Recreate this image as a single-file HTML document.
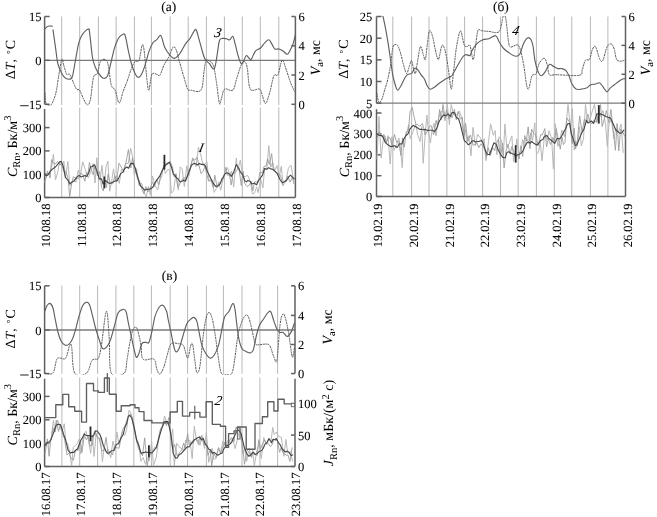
<!DOCTYPE html>
<html><head><meta charset="utf-8"><title>Figure</title>
<style>html,body{margin:0;padding:0;background:#fff;width:657px;height:517px;overflow:hidden;}
svg{display:block;font-family:"Liberation Serif", serif;filter:blur(0.3px);text-rendering:geometricPrecision;} text{stroke:#000;stroke-width:0.06px;} text.lab{stroke:none;}</style></head>
<body>
<svg width="657" height="517" viewBox="0 0 657 517" font-family='"Liberation Serif", serif' fill="#000">
<rect width="657" height="517" fill="#fff"/>
<line x1="61.70" y1="16.50" x2="61.70" y2="105.00" stroke="#b8b8b8" stroke-width="1.0"/>
<line x1="61.70" y1="107.40" x2="61.70" y2="197.50" stroke="#b8b8b8" stroke-width="1.0"/>
<line x1="79.70" y1="16.50" x2="79.70" y2="105.00" stroke="#b8b8b8" stroke-width="1.0"/>
<line x1="79.70" y1="107.40" x2="79.70" y2="197.50" stroke="#b8b8b8" stroke-width="1.0"/>
<line x1="98.40" y1="16.50" x2="98.40" y2="105.00" stroke="#b8b8b8" stroke-width="1.0"/>
<line x1="98.40" y1="107.40" x2="98.40" y2="197.50" stroke="#b8b8b8" stroke-width="1.0"/>
<line x1="116.10" y1="16.50" x2="116.10" y2="105.00" stroke="#b8b8b8" stroke-width="1.0"/>
<line x1="116.10" y1="107.40" x2="116.10" y2="197.50" stroke="#b8b8b8" stroke-width="1.0"/>
<line x1="134.40" y1="16.50" x2="134.40" y2="105.00" stroke="#b8b8b8" stroke-width="1.0"/>
<line x1="134.40" y1="107.40" x2="134.40" y2="197.50" stroke="#b8b8b8" stroke-width="1.0"/>
<line x1="151.40" y1="16.50" x2="151.40" y2="105.00" stroke="#b8b8b8" stroke-width="1.0"/>
<line x1="151.40" y1="107.40" x2="151.40" y2="197.50" stroke="#b8b8b8" stroke-width="1.0"/>
<line x1="170.20" y1="16.50" x2="170.20" y2="105.00" stroke="#b8b8b8" stroke-width="1.0"/>
<line x1="170.20" y1="107.40" x2="170.20" y2="197.50" stroke="#b8b8b8" stroke-width="1.0"/>
<line x1="188.20" y1="16.50" x2="188.20" y2="105.00" stroke="#b8b8b8" stroke-width="1.0"/>
<line x1="188.20" y1="107.40" x2="188.20" y2="197.50" stroke="#b8b8b8" stroke-width="1.0"/>
<line x1="206.40" y1="16.50" x2="206.40" y2="105.00" stroke="#b8b8b8" stroke-width="1.0"/>
<line x1="206.40" y1="107.40" x2="206.40" y2="197.50" stroke="#b8b8b8" stroke-width="1.0"/>
<line x1="224.40" y1="16.50" x2="224.40" y2="105.00" stroke="#b8b8b8" stroke-width="1.0"/>
<line x1="224.40" y1="107.40" x2="224.40" y2="197.50" stroke="#b8b8b8" stroke-width="1.0"/>
<line x1="242.30" y1="16.50" x2="242.30" y2="105.00" stroke="#b8b8b8" stroke-width="1.0"/>
<line x1="242.30" y1="107.40" x2="242.30" y2="197.50" stroke="#b8b8b8" stroke-width="1.0"/>
<line x1="260.30" y1="16.50" x2="260.30" y2="105.00" stroke="#b8b8b8" stroke-width="1.0"/>
<line x1="260.30" y1="107.40" x2="260.30" y2="197.50" stroke="#b8b8b8" stroke-width="1.0"/>
<line x1="278.80" y1="16.50" x2="278.80" y2="105.00" stroke="#b8b8b8" stroke-width="1.0"/>
<line x1="278.80" y1="107.40" x2="278.80" y2="197.50" stroke="#b8b8b8" stroke-width="1.0"/>
<line x1="44.60" y1="60.30" x2="295.40" y2="60.30" stroke="#7a7a7a" stroke-width="1.3"/>
<line x1="44.60" y1="16.50" x2="44.60" y2="104.30" stroke="#606060" stroke-width="1.5"/>
<line x1="295.40" y1="16.50" x2="295.40" y2="104.30" stroke="#606060" stroke-width="1.5"/>
<line x1="44.60" y1="109.00" x2="44.60" y2="197.50" stroke="#606060" stroke-width="1.5"/>
<line x1="295.40" y1="104.30" x2="295.40" y2="197.50" stroke="#606060" stroke-width="1.5"/>
<line x1="44.60" y1="197.50" x2="295.40" y2="197.50" stroke="#606060" stroke-width="1.5"/>
<line x1="44.60" y1="16.50" x2="49.60" y2="16.50" stroke="#606060" stroke-width="1.5"/>
<text x="41.60" y="21.00" font-size="12.5" text-anchor="end">15</text>
<line x1="44.60" y1="60.30" x2="49.60" y2="60.30" stroke="#606060" stroke-width="1.5"/>
<text x="41.60" y="64.80" font-size="12.5" text-anchor="end">0</text>
<line x1="44.60" y1="104.30" x2="49.60" y2="104.30" stroke="#606060" stroke-width="1.5"/>
<line x1="20.20" y1="105.70" x2="28.60" y2="105.70" stroke="#2a2a2a" stroke-width="1.05"/>
<text x="41.60" y="108.80" font-size="12.5" text-anchor="end">15</text>
<line x1="291.40" y1="16.50" x2="295.40" y2="16.50" stroke="#606060" stroke-width="1.5"/>
<text x="298.40" y="21.00" font-size="12.5" text-anchor="start">6</text>
<line x1="291.40" y1="45.80" x2="295.40" y2="45.80" stroke="#606060" stroke-width="1.5"/>
<text x="298.40" y="50.30" font-size="12.5" text-anchor="start">4</text>
<line x1="291.40" y1="75.00" x2="295.40" y2="75.00" stroke="#606060" stroke-width="1.5"/>
<text x="298.40" y="79.50" font-size="12.5" text-anchor="start">2</text>
<line x1="291.40" y1="104.30" x2="295.40" y2="104.30" stroke="#606060" stroke-width="1.5"/>
<text x="298.40" y="108.80" font-size="12.5" text-anchor="start">0</text>
<line x1="44.60" y1="127.60" x2="49.60" y2="127.60" stroke="#606060" stroke-width="1.5"/>
<text x="41.60" y="132.10" font-size="12.5" text-anchor="end">300</text>
<line x1="44.60" y1="150.90" x2="49.60" y2="150.90" stroke="#606060" stroke-width="1.5"/>
<text x="41.60" y="155.40" font-size="12.5" text-anchor="end">200</text>
<line x1="44.60" y1="174.20" x2="49.60" y2="174.20" stroke="#606060" stroke-width="1.5"/>
<text x="41.60" y="178.70" font-size="12.5" text-anchor="end">100</text>
<line x1="44.60" y1="197.50" x2="49.60" y2="197.50" stroke="#606060" stroke-width="1.5"/>
<text x="41.60" y="202.00" font-size="12.5" text-anchor="end">0</text>
<text x="49.70" y="203.50" font-size="12.5" text-anchor="end" transform="rotate(-90 49.70 203.50)">10.08.18</text>
<text x="85.53" y="203.50" font-size="12.5" text-anchor="end" transform="rotate(-90 85.53 203.50)">11.08.18</text>
<text x="121.36" y="203.50" font-size="12.5" text-anchor="end" transform="rotate(-90 121.36 203.50)">12.08.18</text>
<text x="157.19" y="203.50" font-size="12.5" text-anchor="end" transform="rotate(-90 157.19 203.50)">13.08.18</text>
<text x="193.01" y="203.50" font-size="12.5" text-anchor="end" transform="rotate(-90 193.01 203.50)">14.08.18</text>
<text x="228.84" y="203.50" font-size="12.5" text-anchor="end" transform="rotate(-90 228.84 203.50)">15.08.18</text>
<text x="264.67" y="203.50" font-size="12.5" text-anchor="end" transform="rotate(-90 264.67 203.50)">16.08.18</text>
<text x="300.50" y="203.50" font-size="12.5" text-anchor="end" transform="rotate(-90 300.50 203.50)">17.08.18</text>
<clipPath id="ca"><rect x="44" y="15.5" width="252" height="90"/></clipPath>
<g clip-path="url(#ca)">
<path d="M45.0 93.2 C45.2 94.8 45.0 101.0 46.0 103.0 C47.0 105.0 49.3 106.6 50.9 105.0 C52.5 103.4 54.5 98.2 55.8 93.2 C57.1 88.2 57.8 80.9 58.8 75.3 C59.8 69.7 61.0 61.1 61.8 59.5 C62.6 57.9 63.0 62.9 63.8 65.4 C64.6 67.9 65.7 72.9 66.7 74.4 C67.7 75.9 68.5 72.9 69.7 74.4 C70.9 75.9 72.6 80.8 73.7 83.3 C74.8 85.8 75.6 88.0 76.6 89.2 C77.6 90.4 78.4 88.6 79.6 90.2 C80.8 91.8 82.3 96.6 83.6 99.1 C84.9 101.6 86.3 105.0 87.5 105.0 C88.7 105.0 89.5 103.7 90.5 99.1 C91.5 94.5 92.3 81.6 93.5 77.3 C94.7 73.0 96.2 76.0 97.4 73.4 C98.6 70.8 99.1 63.8 100.4 61.5 C101.7 59.2 104.0 58.9 105.3 59.5 C106.6 60.1 107.3 61.1 108.3 65.4 C109.3 69.7 110.1 81.1 111.3 85.2 C112.5 89.3 113.9 87.2 115.2 90.2 C116.5 93.2 117.9 102.8 119.2 103.0 C120.5 103.2 121.9 94.8 123.2 91.2 C124.5 87.6 125.8 84.9 127.1 81.3 C128.4 77.7 129.8 72.7 131.1 69.4 C132.4 66.1 133.7 63.0 135.0 61.5 C136.3 60.0 137.8 63.1 139.0 60.5 C140.2 57.9 141.2 47.4 142.0 45.6 C142.8 43.8 143.2 44.0 144.0 49.6 C144.8 55.2 146.1 72.5 146.9 79.3 C147.7 86.1 148.1 91.0 148.9 90.2 C149.7 89.4 150.6 77.0 151.9 74.4 C153.2 71.8 155.5 74.2 156.8 74.4 C158.1 74.6 158.6 76.8 159.8 75.3 C161.0 73.8 162.7 67.9 163.8 65.4 C165.0 62.9 165.8 62.0 166.7 60.5 C167.6 59.0 168.0 58.5 169.1 56.2 C170.2 54.0 172.0 48.0 173.2 47.0 C174.4 46.0 175.3 47.7 176.3 50.1 C177.3 52.5 178.2 57.1 179.4 61.4 C180.6 65.7 182.1 71.1 183.5 75.7 C184.9 80.3 186.4 86.7 187.6 89.1 C188.8 91.5 188.5 89.9 190.7 90.1 C192.9 90.3 198.8 93.2 201.0 90.1 C203.2 87.0 203.2 76.6 204.0 71.6 C204.8 66.6 205.2 62.1 206.1 60.3 C207.0 58.5 208.0 60.1 209.2 61.0 C210.4 61.9 212.1 62.0 213.3 65.5 C214.5 69.0 215.4 75.6 216.4 81.9 C217.4 88.2 218.6 100.8 219.4 103.5 C220.2 106.2 220.6 100.8 221.5 98.4 C222.4 96.0 222.7 90.5 224.6 89.1 C226.5 87.7 230.8 92.0 232.8 90.1 C234.9 88.2 235.5 81.9 236.9 77.8 C238.3 73.7 239.8 68.2 241.0 65.5 C242.2 62.8 243.1 61.1 244.1 61.4 C245.1 61.7 246.2 62.9 247.2 67.5 C248.2 72.1 248.2 85.5 250.3 89.1 C252.4 92.7 257.4 87.9 259.5 89.1 C261.6 90.3 261.6 93.9 262.6 96.3 C263.6 98.7 264.5 104.2 265.7 103.5 C266.9 102.8 268.4 96.8 269.8 92.2 C271.2 87.6 272.5 78.6 273.9 75.7 C275.3 72.8 276.6 77.3 278.0 74.7 C279.4 72.1 280.7 61.1 282.1 60.3 C283.5 59.4 284.8 66.0 286.2 69.6 C287.6 73.2 288.9 78.3 290.3 81.9 C291.7 85.5 293.7 89.7 294.4 91.2" fill="none" stroke="#555555" stroke-width="1.0" stroke-dasharray="1.2 1.5" stroke-linejoin="round" stroke-linecap="round"/>
<path d="M45.0 28.8 C45.5 28.4 46.7 26.6 47.9 26.2 C49.1 25.8 51.6 26.2 52.3 26.2" fill="none" stroke="#606060" stroke-width="1.15" stroke-linejoin="round" stroke-linecap="round"/>
<path d="M53.0 29.8 C53.5 33.1 55.0 44.0 55.8 49.6 C56.6 55.2 56.8 59.5 57.8 63.5 C58.8 67.5 60.5 70.9 61.8 73.4 C63.1 75.9 64.2 77.4 65.7 78.3 C67.2 79.2 69.5 79.4 70.7 78.9 C71.9 78.4 71.9 78.5 72.7 75.3 C73.5 72.1 74.6 64.8 75.6 59.5 C76.6 54.2 77.6 47.7 78.6 43.7 C79.6 39.7 80.4 37.9 81.6 35.7 C82.8 33.6 84.3 31.9 85.5 30.8 C86.7 29.7 87.8 29.0 88.5 29.2 C89.2 29.4 88.8 27.1 89.5 31.8 C90.2 36.5 91.5 51.6 92.5 57.5 C93.5 63.4 94.2 64.6 95.4 67.4 C96.6 70.2 98.1 72.6 99.4 74.4 C100.7 76.2 102.1 78.0 103.4 78.3 C104.7 78.6 106.2 78.4 107.3 76.3 C108.4 74.2 109.1 70.0 110.3 65.4 C111.5 60.8 113.0 53.1 114.3 48.6 C115.6 44.1 116.9 41.0 118.2 38.7 C119.5 36.4 121.1 35.4 122.2 34.8 C123.3 34.2 124.1 32.8 125.1 35.3 C126.1 37.8 127.1 45.1 128.1 49.6 C129.1 54.1 129.9 58.5 131.1 62.5 C132.2 66.5 133.8 70.9 135.0 73.4 C136.2 75.9 137.0 77.0 138.0 77.3 C139.0 77.6 139.8 77.3 141.0 75.3 C142.2 73.3 143.7 69.4 145.0 65.4 C146.3 61.5 147.6 55.4 148.9 51.6 C150.2 47.8 151.6 44.7 152.9 42.7 C154.2 40.7 155.5 40.9 156.8 39.7 C158.1 38.5 159.5 34.4 160.8 35.7 C162.1 37.0 163.4 44.5 164.8 47.6 C166.2 50.7 167.5 52.4 169.1 54.2 C170.7 56.0 172.5 58.3 174.2 58.3 C175.9 58.3 177.5 56.6 179.4 54.2 C181.3 51.8 183.8 46.5 185.5 43.9 C187.2 41.3 188.3 40.8 189.7 38.8 C191.1 36.8 192.7 33.1 193.8 31.6 C194.9 30.1 195.3 28.7 196.2 29.9 C197.0 31.1 197.9 35.4 198.9 38.8 C199.9 42.2 201.0 46.7 202.0 50.1 C203.0 53.5 203.9 57.1 205.1 59.3 C206.3 61.5 207.7 61.9 209.2 63.4 C210.7 65.0 212.9 70.3 214.3 68.6 C215.7 66.9 216.6 57.7 217.4 53.1 C218.2 48.5 218.6 43.2 219.4 40.8 C220.2 38.3 221.3 38.7 222.5 38.4 C223.7 38.1 225.4 38.6 226.6 38.8 C227.8 39.0 228.7 40.2 229.7 39.8 C230.7 39.4 231.9 35.8 232.8 36.3 C233.7 36.8 234.1 39.8 234.9 42.9 C235.8 46.0 236.9 51.8 237.9 55.2 C238.9 58.6 240.1 62.2 241.0 63.4 C241.9 64.6 242.2 63.7 243.1 62.4 C244.0 61.1 245.2 56.3 246.2 55.6 C247.2 54.9 248.3 57.7 249.2 58.3 C250.0 58.9 250.3 60.5 251.3 59.3 C252.3 58.1 253.9 53.0 255.4 51.1 C256.9 49.2 258.9 49.4 260.5 48.0 C262.1 46.6 263.3 44.3 264.7 42.9 C266.1 41.5 267.6 39.6 268.8 39.8 C270.0 40.0 270.8 42.4 271.8 43.9 C272.8 45.4 273.7 48.1 274.9 49.0 C276.1 49.9 277.6 48.6 279.0 49.0 C280.4 49.4 281.7 50.2 283.1 51.1 C284.5 52.0 286.1 54.4 287.3 54.2 C288.5 54.0 289.3 52.0 290.3 50.1 C291.3 48.2 292.5 45.5 293.4 42.9 C294.2 40.3 295.1 36.1 295.4 34.7" fill="none" stroke="#606060" stroke-width="1.15" stroke-linejoin="round" stroke-linecap="round"/>
</g>
<path d="M45.0 182.3 L46.6 175.4 L49.2 173.2 L51.6 167.5 L53.4 154.1 L55.5 179.8 L57.5 173.2 L59.8 161.1 L62.3 166.7 L63.9 161.1 L65.4 177.8 L67.9 161.5 L69.9 185.7 L72.3 181.2 L73.8 179.3 L75.9 182.3 L78.2 170.2 L80.0 177.2 L82.7 161.8 L85.3 169.5 L86.8 174.6 L88.3 177.7 L90.4 173.2 L93.1 163.6 L95.0 183.0 L96.8 157.7 L98.8 179.7 L100.3 179.0 L102.0 165.2 L104.0 186.3 L106.1 166.4 L107.9 161.1 L109.7 191.2 L111.4 182.9 L113.5 168.8 L115.3 181.0 L116.8 175.9 L119.3 183.4 L121.5 169.5 L123.8 172.4 L125.5 163.4 L128.2 163.5 L130.7 148.4 L132.4 155.9 L134.3 175.1 L136.6 168.7 L139.0 185.7 L141.7 183.4 L143.7 191.3 L146.2 197.0 L148.5 186.4 L150.3 195.1 L152.5 176.1 L155.1 185.4 L157.7 190.0 L159.8 180.8 L162.0 175.5 L163.5 165.1 L165.3 173.7 L167.7 169.6 L169.7 169.9 L171.4 193.1 L173.6 191.0 L175.9 173.9 L178.3 190.1 L180.2 166.8 L182.2 168.9 L184.3 186.6 L186.8 165.8 L188.9 176.2 L190.9 165.5 L193.0 158.7 L194.5 162.5 L196.0 167.0 L198.4 147.3 L201.1 156.1 L203.3 165.9 L205.3 164.2 L206.9 161.6 L209.0 180.9 L211.7 179.0 L214.2 192.4 L216.3 188.4 L218.9 181.8 L220.7 190.3 L222.8 179.5 L225.4 171.4 L227.6 167.7 L229.7 175.0 L231.5 171.3 L233.7 187.1 L236.3 158.0 L237.8 170.0 L240.3 160.2 L242.8 176.9 L245.4 176.3 L247.8 175.5 L250.3 181.5 L252.4 194.0 L254.6 192.8 L256.6 186.8 L258.1 192.6 L260.7 179.0 L262.9 187.9 L264.6 168.8 L266.7 169.5 L268.8 145.5 L270.7 167.2 L272.6 162.2 L274.7 170.6 L277.0 165.5 L279.2 176.6 L281.3 166.3 L282.8 181.7 L284.5 182.1 L286.2 179.9 L288.4 168.1 L291.0 165.2 L293.5 179.9" fill="none" stroke="#b8b8b8" stroke-width="1.0" stroke-linejoin="round" stroke-linecap="round"/>
<path d="M45.0 181.0 L47.5 171.0 L50.1 178.0 L51.6 159.6 L53.1 162.8 L55.5 164.0 L57.7 161.4 L59.9 165.1 L61.7 163.6 L63.8 171.6 L66.0 171.8 L68.1 178.7 L69.7 196.5 L71.6 183.9 L73.4 176.6 L75.7 178.4 L78.3 178.7 L80.8 173.3 L82.9 174.5 L84.8 181.3 L86.6 172.1 L88.0 174.7 L89.4 162.5 L91.4 169.8 L93.2 174.8 L95.0 166.2 L97.5 176.0 L99.5 171.5 L101.6 187.5 L103.3 191.0 L104.7 180.3 L106.5 187.4 L108.1 174.1 L110.1 183.3 L112.7 183.9 L114.9 175.9 L116.5 181.5 L119.0 163.2 L121.3 167.1 L123.6 171.0 L126.1 162.0 L128.4 149.5 L130.8 168.0 L132.6 157.7 L135.2 169.3 L137.7 179.4 L139.3 180.2 L141.6 188.4 L143.9 193.9 L145.8 186.6 L147.9 191.9 L149.9 189.1 L152.4 182.0 L154.4 186.4 L156.8 179.0 L158.6 184.8 L161.0 174.5 L163.5 167.2 L165.5 163.4 L167.6 164.7 L170.1 161.2 L172.3 166.7 L174.3 177.0 L176.0 173.8 L177.8 187.2 L180.0 183.8 L181.6 180.1 L184.1 177.5 L185.8 180.4 L188.3 171.4 L190.1 168.2 L192.6 158.1 L194.9 160.2 L196.9 157.2 L198.9 165.2 L201.1 173.7 L203.2 171.1 L205.0 166.0 L206.6 173.7 L208.6 181.1 L211.2 180.6 L213.3 187.4 L214.8 175.2 L217.2 187.4 L219.5 183.1 L221.9 181.3 L223.6 177.8 L225.9 167.2 L227.3 175.3 L229.5 174.7 L231.2 185.0 L232.9 174.1 L235.4 172.6 L236.9 170.1 L238.9 167.6 L241.3 185.5 L243.0 171.0 L244.7 183.5 L247.2 186.6 L249.1 185.2 L251.3 181.5 L252.8 190.7 L254.6 181.8 L256.2 181.9 L258.4 182.3 L259.9 172.0 L262.5 173.0 L263.9 166.6 L266.2 165.8 L267.6 158.7 L269.3 164.4 L271.7 153.5 L273.3 170.7 L274.9 171.3 L277.1 173.0 L279.0 174.2 L280.4 175.2 L283.0 185.7 L284.6 181.7 L286.0 182.0 L287.8 176.1 L290.0 182.1 L292.3 177.4 L293.8 183.5" fill="none" stroke="#9c9c9c" stroke-width="0.9" stroke-linejoin="round" stroke-linecap="round"/>
<path d="M45.0 175.1 L46.8 175.8 L49.0 173.5 L50.4 171.0 L52.8 168.9 L55.4 167.0 L57.3 164.8 L59.5 162.0 L61.1 161.3 L63.1 165.9 L65.4 177.3 L67.7 179.8 L69.8 183.8 L72.3 181.9 L74.2 180.9 L76.5 177.4 L79.0 175.4 L80.9 176.9 L83.5 176.0 L85.0 175.6 L86.7 176.5 L88.8 172.8 L90.6 166.7 L92.4 166.5 L94.5 164.8 L96.7 170.1 L99.3 179.0 L101.5 178.8 L103.1 184.0 L105.5 180.4 L107.6 182.5 L110.0 183.4 L112.1 182.6 L114.5 181.2 L117.1 180.6 L119.0 177.5 L120.6 173.6 L123.0 172.1 L124.5 168.8 L126.8 167.0 L128.6 168.2 L130.6 163.6 L133.2 163.4 L135.3 168.1 L136.7 173.6 L138.8 181.0 L140.4 185.8 L142.2 187.6 L144.8 190.2 L146.7 189.4 L148.7 189.2 L150.8 188.9 L153.0 187.0 L154.9 182.9 L157.1 179.7 L159.7 176.2 L161.7 171.6 L163.6 167.9 L165.7 165.2 L167.9 162.9 L169.4 162.3 L171.6 167.5 L173.4 174.3 L174.8 175.3 L176.3 177.7 L178.0 178.7 L179.9 181.7 L181.8 181.5 L183.6 180.1 L185.3 181.3 L187.2 176.8 L189.3 171.0 L191.5 165.3 L193.9 163.4 L195.6 163.8 L197.8 165.0 L199.3 163.4 L201.7 164.4 L203.7 164.2 L205.5 166.2 L207.7 172.3 L209.3 175.3 L210.9 178.8 L213.2 183.2 L215.6 186.4 L218.0 186.0 L220.2 183.9 L221.7 179.4 L223.5 176.6 L225.3 173.4 L227.2 172.8 L229.7 174.2 L231.3 176.4 L233.8 171.7 L236.3 164.6 L238.9 168.8 L240.5 172.2 L242.7 174.9 L244.7 180.6 L246.4 181.9 L247.9 180.4 L250.3 181.4 L251.7 184.0 L254.2 183.3 L256.7 184.8 L258.1 180.9 L260.4 178.3 L262.6 174.9 L264.6 168.5 L266.8 169.3 L268.6 167.7 L270.6 168.9 L272.9 169.3 L274.9 171.1 L277.3 173.7 L279.8 179.3 L282.2 182.8 L284.3 181.8 L286.8 180.0 L288.5 177.2 L290.5 175.2 L292.9 177.6 L294.3 178.7" fill="none" stroke="#444444" stroke-width="1.1" stroke-linejoin="round" stroke-linecap="round"/>
<line x1="104.40" y1="176.50" x2="104.40" y2="188.40" stroke="#2a2a2a" stroke-width="1.8"/>
<line x1="164.40" y1="154.80" x2="164.40" y2="169.60" stroke="#2a2a2a" stroke-width="1.8"/>
<text transform="translate(213.80 36.50) skewX(-12)" x="0" y="0" font-size="13.5" font-style="italic">3</text>
<text transform="translate(198.30 151.80) skewX(-12)" x="0" y="0" font-size="13" font-style="italic">I</text>
<text x="168.80" y="10.50" font-size="13.5" text-anchor="middle">(a)</text>
<line x1="392.80" y1="16.50" x2="392.80" y2="196.50" stroke="#b8b8b8" stroke-width="1.0"/>
<line x1="411.60" y1="16.50" x2="411.60" y2="196.50" stroke="#b8b8b8" stroke-width="1.0"/>
<line x1="429.00" y1="16.50" x2="429.00" y2="196.50" stroke="#b8b8b8" stroke-width="1.0"/>
<line x1="446.90" y1="16.50" x2="446.90" y2="196.50" stroke="#b8b8b8" stroke-width="1.0"/>
<line x1="464.60" y1="16.50" x2="464.60" y2="196.50" stroke="#b8b8b8" stroke-width="1.0"/>
<line x1="482.60" y1="16.50" x2="482.60" y2="196.50" stroke="#b8b8b8" stroke-width="1.0"/>
<line x1="500.50" y1="16.50" x2="500.50" y2="196.50" stroke="#b8b8b8" stroke-width="1.0"/>
<line x1="518.20" y1="16.50" x2="518.20" y2="196.50" stroke="#b8b8b8" stroke-width="1.0"/>
<line x1="536.40" y1="16.50" x2="536.40" y2="196.50" stroke="#b8b8b8" stroke-width="1.0"/>
<line x1="554.30" y1="16.50" x2="554.30" y2="196.50" stroke="#b8b8b8" stroke-width="1.0"/>
<line x1="571.80" y1="16.50" x2="571.80" y2="196.50" stroke="#b8b8b8" stroke-width="1.0"/>
<line x1="590.40" y1="16.50" x2="590.40" y2="196.50" stroke="#b8b8b8" stroke-width="1.0"/>
<line x1="607.90" y1="16.50" x2="607.90" y2="196.50" stroke="#b8b8b8" stroke-width="1.0"/>
<line x1="376.50" y1="103.20" x2="625.50" y2="103.20" stroke="#7a7a7a" stroke-width="1.3"/>
<line x1="376.50" y1="16.50" x2="376.50" y2="103.20" stroke="#606060" stroke-width="1.5"/>
<line x1="625.50" y1="16.50" x2="625.50" y2="103.20" stroke="#606060" stroke-width="1.5"/>
<line x1="376.50" y1="109.20" x2="376.50" y2="196.50" stroke="#606060" stroke-width="1.5"/>
<line x1="625.50" y1="103.20" x2="625.50" y2="196.50" stroke="#606060" stroke-width="1.5"/>
<line x1="376.50" y1="196.50" x2="625.50" y2="196.50" stroke="#606060" stroke-width="1.5"/>
<line x1="376.50" y1="16.50" x2="381.50" y2="16.50" stroke="#606060" stroke-width="1.5"/>
<text x="372.30" y="21.00" font-size="12.5" text-anchor="end">25</text>
<line x1="376.50" y1="38.20" x2="381.50" y2="38.20" stroke="#606060" stroke-width="1.5"/>
<text x="372.30" y="42.70" font-size="12.5" text-anchor="end">20</text>
<line x1="376.50" y1="59.85" x2="381.50" y2="59.85" stroke="#606060" stroke-width="1.5"/>
<text x="372.30" y="64.35" font-size="12.5" text-anchor="end">15</text>
<line x1="376.50" y1="81.50" x2="381.50" y2="81.50" stroke="#606060" stroke-width="1.5"/>
<text x="372.30" y="86.00" font-size="12.5" text-anchor="end">10</text>
<line x1="376.50" y1="103.20" x2="381.50" y2="103.20" stroke="#606060" stroke-width="1.5"/>
<text x="372.30" y="107.70" font-size="12.5" text-anchor="end">5</text>
<line x1="621.50" y1="16.50" x2="625.50" y2="16.50" stroke="#606060" stroke-width="1.5"/>
<text x="628.50" y="21.00" font-size="12.5" text-anchor="start">6</text>
<line x1="621.50" y1="45.40" x2="625.50" y2="45.40" stroke="#606060" stroke-width="1.5"/>
<text x="628.50" y="49.90" font-size="12.5" text-anchor="start">4</text>
<line x1="621.50" y1="74.30" x2="625.50" y2="74.30" stroke="#606060" stroke-width="1.5"/>
<text x="628.50" y="78.80" font-size="12.5" text-anchor="start">2</text>
<line x1="621.50" y1="103.20" x2="625.50" y2="103.20" stroke="#606060" stroke-width="1.5"/>
<text x="628.50" y="107.70" font-size="12.5" text-anchor="start">0</text>
<line x1="376.50" y1="113.00" x2="381.50" y2="113.00" stroke="#606060" stroke-width="1.5"/>
<text x="372.30" y="117.50" font-size="12.5" text-anchor="end">400</text>
<line x1="376.50" y1="133.90" x2="381.50" y2="133.90" stroke="#606060" stroke-width="1.5"/>
<text x="372.30" y="138.40" font-size="12.5" text-anchor="end">300</text>
<line x1="376.50" y1="154.80" x2="381.50" y2="154.80" stroke="#606060" stroke-width="1.5"/>
<text x="372.30" y="159.30" font-size="12.5" text-anchor="end">200</text>
<line x1="376.50" y1="175.70" x2="381.50" y2="175.70" stroke="#606060" stroke-width="1.5"/>
<text x="372.30" y="180.20" font-size="12.5" text-anchor="end">100</text>
<line x1="376.50" y1="196.50" x2="381.50" y2="196.50" stroke="#606060" stroke-width="1.5"/>
<text x="372.30" y="201.00" font-size="12.5" text-anchor="end">0</text>
<text x="382.30" y="203.50" font-size="12.5" text-anchor="end" transform="rotate(-90 382.30 203.50)">19.02.19</text>
<text x="417.99" y="203.50" font-size="12.5" text-anchor="end" transform="rotate(-90 417.99 203.50)">20.02.19</text>
<text x="453.68" y="203.50" font-size="12.5" text-anchor="end" transform="rotate(-90 453.68 203.50)">21.02.19</text>
<text x="489.37" y="203.50" font-size="12.5" text-anchor="end" transform="rotate(-90 489.37 203.50)">22.02.19</text>
<text x="525.06" y="203.50" font-size="12.5" text-anchor="end" transform="rotate(-90 525.06 203.50)">23.02.19</text>
<text x="560.75" y="203.50" font-size="12.5" text-anchor="end" transform="rotate(-90 560.75 203.50)">24.02.19</text>
<text x="596.44" y="203.50" font-size="12.5" text-anchor="end" transform="rotate(-90 596.44 203.50)">25.02.19</text>
<text x="632.13" y="203.50" font-size="12.5" text-anchor="end" transform="rotate(-90 632.13 203.50)">26.02.19</text>
<clipPath id="cb"><rect x="376" y="16" width="250" height="88"/></clipPath>
<g clip-path="url(#cb)">
<path d="M376.9 93.2 C377.2 94.7 378.1 101.1 378.9 102.1 C379.7 103.1 380.9 101.2 381.9 99.1 C382.9 96.9 383.9 92.5 384.9 89.2 C385.9 85.9 386.8 83.6 387.8 79.3 C388.8 75.0 390.0 68.8 390.8 63.5 C391.6 58.2 392.1 50.7 392.8 47.6 C393.5 44.5 394.0 45.0 394.8 44.7 C395.6 44.4 396.7 44.1 397.7 45.6 C398.7 47.1 399.7 50.3 400.7 53.6 C401.7 56.9 402.7 62.1 403.7 65.4 C404.7 68.7 405.6 73.4 406.6 73.4 C407.6 73.4 408.8 67.6 409.6 65.4 C410.4 63.3 410.9 59.8 411.6 60.5 C412.3 61.2 413.0 67.2 413.6 69.4 C414.2 71.6 414.9 74.7 415.5 73.4 C416.1 72.1 416.7 66.0 417.5 61.5 C418.3 57.0 419.5 47.6 420.5 46.6 C421.5 45.6 422.7 53.4 423.5 55.5 C424.3 57.6 424.8 61.5 425.4 59.5 C426.0 57.5 426.7 48.5 427.4 43.7 C428.1 38.9 428.6 32.1 429.4 30.8 C430.2 29.5 431.4 32.6 432.4 35.7 C433.4 38.8 434.3 45.6 435.3 49.6 C436.3 53.6 437.3 59.8 438.3 59.5 C439.3 59.2 440.5 49.9 441.3 47.6 C442.1 45.3 442.5 44.3 443.3 45.6 C444.1 46.9 445.2 50.5 446.2 55.5 C447.2 60.5 448.4 69.7 449.2 75.3 C450.0 80.9 450.5 89.2 451.2 89.2 C451.9 89.2 452.4 81.9 453.2 75.3 C454.0 68.7 455.1 56.5 456.1 49.6 C457.1 42.7 458.3 36.8 459.1 33.8 C459.9 30.8 460.3 30.0 461.1 31.8 C461.9 33.6 463.1 42.2 464.1 44.7 C465.1 47.2 466.0 46.5 467.0 46.6 C468.0 46.8 469.0 43.5 470.0 45.6 C471.0 47.8 472.2 58.8 473.0 59.5 C473.8 60.2 474.2 54.4 475.0 49.6 C475.8 44.8 476.8 33.9 477.9 30.8 C479.0 27.7 480.1 30.7 481.9 30.8 C483.7 30.9 485.9 31.3 488.8 31.4 C491.7 31.5 496.7 34.1 499.1 31.6 C501.5 29.1 502.1 18.4 503.2 16.2 C504.3 14.0 504.8 14.1 505.7 18.2 C506.6 22.3 507.6 36.0 508.4 40.8 C509.2 45.6 508.9 46.3 510.4 47.0 C511.9 47.7 515.9 44.2 517.6 44.9 C519.3 45.6 519.7 47.7 520.7 51.1 C521.7 54.5 522.8 59.7 523.8 65.5 C524.8 71.3 525.9 82.2 526.8 86.0 C527.6 89.8 528.0 89.8 528.9 88.1 C529.8 86.4 530.8 78.1 532.0 75.7 C533.2 73.3 534.9 75.8 536.1 73.7 C537.3 71.7 537.8 66.0 539.2 63.4 C540.6 60.8 542.9 57.9 544.3 58.3 C545.7 58.6 546.5 62.8 547.4 65.5 C548.2 68.2 547.9 73.2 549.4 74.7 C550.9 76.2 551.6 74.6 556.6 74.7 C561.6 74.8 574.9 76.2 579.2 75.3 C583.5 74.4 581.3 72.1 582.3 69.6 C583.3 67.1 584.2 62.0 585.4 60.3 C586.6 58.6 588.3 61.2 589.5 59.3 C590.7 57.4 591.6 51.0 592.6 49.0 C593.6 47.0 594.5 45.3 595.7 47.0 C596.9 48.7 598.6 57.1 599.8 59.3 C601.0 61.5 601.7 62.3 602.9 60.3 C604.1 58.2 605.6 49.7 607.0 47.0 C608.4 44.3 609.9 43.6 611.1 43.9 C612.3 44.2 613.2 46.3 614.2 49.0 C615.2 51.7 615.4 58.4 617.3 60.3 C619.2 62.2 624.1 60.3 625.5 60.3" fill="none" stroke="#555555" stroke-width="1.0" stroke-dasharray="1.2 1.5" stroke-linejoin="round" stroke-linecap="round"/>
<path d="M382.9 15.9 C383.4 18.2 384.8 24.5 385.8 29.8 C386.8 35.1 388.0 42.3 388.8 47.6 C389.6 52.9 390.1 56.9 390.8 61.5 C391.5 66.1 392.0 71.2 392.8 75.3 C393.6 79.4 394.9 83.7 395.7 86.2 C396.5 88.7 396.9 90.2 397.7 90.2 C398.5 90.2 399.5 88.2 400.7 86.2 C401.9 84.2 403.5 80.3 404.7 78.3 C405.9 76.3 406.5 75.2 407.6 74.4 C408.8 73.6 410.4 74.4 411.6 73.4 C412.8 72.4 413.6 69.1 414.6 68.4 C415.6 67.7 416.4 68.2 417.5 69.4 C418.6 70.6 420.3 73.7 421.5 75.3 C422.7 76.9 423.5 77.5 424.5 79.3 C425.5 81.1 426.4 84.5 427.4 86.2 C428.4 87.9 429.2 89.0 430.4 89.2 C431.6 89.4 432.9 88.2 434.4 87.2 C435.9 86.2 437.5 84.6 439.3 83.3 C441.1 82.0 443.2 80.5 445.2 79.3 C447.2 78.1 449.9 77.3 451.2 76.3 C452.5 75.3 452.0 75.4 453.2 73.4 C454.4 71.4 456.5 67.3 458.1 64.5 C459.8 61.7 461.8 58.1 463.1 56.5 C464.4 54.9 464.9 54.8 466.0 54.6 C467.1 54.4 469.0 56.2 470.0 55.5 C471.0 54.8 470.9 52.6 472.0 50.6 C473.1 48.6 475.1 45.5 476.9 43.7 C478.7 41.9 480.9 40.5 482.9 39.7 C484.9 38.9 486.7 39.4 488.8 38.7 C490.9 38.0 494.0 35.2 495.7 35.7 C497.4 36.2 497.9 39.8 499.1 41.8 C500.4 43.8 501.5 46.1 503.2 48.0 C504.9 49.9 507.3 51.7 509.4 53.1 C511.4 54.5 513.8 56.0 515.5 56.2 C517.2 56.4 518.3 56.4 519.7 54.2 C521.1 52.0 522.4 45.6 523.8 42.9 C525.2 40.1 526.7 38.2 527.9 37.7 C529.1 37.2 530.1 38.4 531.0 39.8 C531.9 41.2 532.3 42.4 533.0 46.0 C533.7 49.6 534.2 57.1 535.1 61.4 C536.0 65.7 537.1 69.2 538.1 71.6 C539.1 74.0 540.0 75.7 541.2 75.7 C542.4 75.7 543.9 73.5 545.3 71.6 C546.7 69.7 548.0 65.2 549.4 64.4 C550.8 63.6 552.2 65.8 553.6 66.5 C555.0 67.2 556.3 68.2 557.7 68.6 C559.1 68.9 560.4 68.3 561.8 68.6 C563.2 68.9 564.7 69.4 565.9 70.6 C567.1 71.8 568.0 73.5 569.0 75.7 C570.0 77.9 570.8 81.8 572.0 84.0 C573.2 86.2 574.7 88.2 576.2 89.1 C577.8 89.9 579.6 89.3 581.3 89.1 C583.0 88.9 584.9 88.8 586.4 88.1 C587.9 87.4 589.0 85.7 590.5 85.0 C592.0 84.3 594.2 84.3 595.7 84.0 C597.2 83.7 598.4 82.2 599.8 82.9 C601.2 83.6 602.7 86.6 603.9 88.1 C605.1 89.6 606.0 91.8 607.0 91.8 C608.0 91.8 608.9 89.2 610.1 88.1 C611.3 87.0 612.7 86.2 614.2 85.0 C615.7 83.8 617.8 81.9 619.3 80.9 C620.8 79.9 622.4 79.2 623.4 78.8 C624.4 78.4 625.1 78.8 625.5 78.8" fill="none" stroke="#606060" stroke-width="1.15" stroke-linejoin="round" stroke-linecap="round"/>
</g>
<path d="M377.0 159.0 L379.0 116.5 L381.2 158.0 L383.8 134.1 L385.9 143.4 L388.0 135.6 L390.2 164.1 L391.9 136.7 L394.0 150.3 L396.3 145.7 L398.8 137.9 L400.4 146.5 L402.2 167.7 L403.8 138.8 L406.3 135.6 L408.6 124.7 L410.2 138.6 L412.9 131.8 L415.6 124.4 L417.8 135.3 L420.1 141.5 L421.8 126.7 L423.2 163.3 L425.4 131.7 L426.9 115.1 L428.6 133.0 L430.4 142.9 L431.9 131.0 L434.0 123.3 L436.0 136.0 L438.5 118.4 L440.7 111.9 L442.9 110.9 L445.0 120.9 L447.3 104.5 L449.4 124.6 L451.2 104.5 L453.9 115.0 L456.7 114.8 L459.2 111.1 L461.5 116.8 L463.4 135.4 L465.2 129.6 L467.0 140.8 L468.6 135.8 L471.0 155.8 L473.0 127.4 L475.5 145.9 L477.5 134.3 L480.1 137.4 L482.7 142.8 L484.2 138.7 L485.9 160.7 L488.5 141.7 L490.6 123.8 L493.3 135.3 L495.2 130.6 L496.8 154.8 L499.1 136.8 L501.5 140.4 L503.3 155.9 L504.9 124.1 L506.8 147.6 L509.5 142.5 L511.9 135.9 L513.5 161.8 L515.3 151.2 L516.9 138.9 L518.5 153.1 L520.9 151.9 L522.6 139.6 L524.8 146.3 L526.8 138.4 L528.5 143.4 L530.9 132.9 L532.6 140.4 L534.8 122.8 L536.5 154.2 L538.5 152.4 L540.2 141.7 L542.0 160.8 L544.7 133.6 L547.2 139.5 L549.0 130.7 L551.6 138.5 L553.4 169.1 L555.3 123.7 L557.9 146.3 L560.2 139.6 L561.7 130.0 L564.5 136.6 L566.2 123.5 L568.0 104.5 L570.4 126.8 L572.3 108.5 L574.2 150.1 L575.7 140.8 L577.3 145.9 L579.5 126.8 L581.3 145.8 L583.5 139.1 L585.5 104.5 L587.5 121.1 L590.2 118.7 L592.3 111.0 L594.5 104.5 L597.0 122.4 L598.7 111.4 L600.4 116.6 L603.0 110.6 L605.5 123.8 L607.3 146.4 L609.0 124.1 L611.4 119.2 L614.0 139.0 L615.8 128.3 L618.4 132.6 L621.0 124.1 L623.2 152.5" fill="none" stroke="#b8b8b8" stroke-width="1.0" stroke-linejoin="round" stroke-linecap="round"/>
<path d="M377.0 138.3 L379.0 131.5 L381.2 136.3 L383.4 135.8 L384.9 136.0 L386.3 143.4 L388.2 137.7 L389.9 137.7 L392.3 145.8 L394.5 134.4 L396.6 142.4 L398.7 141.4 L400.9 155.5 L402.5 137.9 L404.4 147.1 L406.0 132.2 L408.5 130.2 L410.0 111.8 L412.3 107.5 L413.8 115.8 L416.1 124.8 L417.9 124.5 L419.7 126.3 L422.2 123.6 L423.6 127.6 L425.1 135.0 L427.6 130.9 L429.6 126.5 L431.1 125.5 L433.7 134.6 L436.2 120.3 L437.7 126.9 L439.6 109.5 L441.2 119.8 L443.0 104.5 L445.1 118.3 L446.7 109.6 L449.0 118.9 L450.4 114.3 L452.0 118.0 L454.4 109.4 L456.3 119.8 L458.2 111.5 L460.3 119.0 L462.3 117.3 L464.1 136.5 L465.6 123.4 L467.8 141.5 L470.4 134.9 L473.0 145.1 L475.2 144.5 L477.0 142.8 L478.8 147.7 L481.1 143.8 L483.3 147.1 L484.8 149.6 L486.5 157.2 L488.3 147.7 L490.3 155.5 L492.7 147.8 L494.7 150.6 L496.1 143.7 L498.5 139.2 L500.4 158.5 L502.5 143.1 L504.1 168.1 L506.0 151.0 L507.9 144.4 L510.2 154.2 L511.8 146.5 L513.8 151.2 L515.4 157.7 L517.7 154.5 L519.1 159.0 L520.8 145.7 L522.7 156.5 L524.8 135.6 L526.3 141.1 L528.2 126.8 L529.9 148.7 L531.6 129.2 L533.6 133.3 L536.1 135.6 L538.1 145.9 L540.7 134.6 L542.3 135.0 L544.8 128.6 L546.6 146.7 L548.2 138.8 L550.5 144.5 L553.0 137.4 L554.4 142.5 L556.2 128.6 L558.5 139.9 L560.3 149.2 L562.0 137.2 L563.4 144.6 L564.9 142.5 L567.0 118.0 L569.6 122.2 L572.2 143.8 L574.2 128.2 L575.6 149.0 L577.4 140.7 L579.7 115.9 L582.1 132.5 L584.3 119.0 L586.0 120.6 L588.0 114.2 L590.0 122.6 L592.1 123.7 L593.9 120.3 L596.4 122.4 L598.9 113.4 L600.5 104.6 L602.2 126.6 L604.7 117.7 L606.4 110.5 L608.9 122.8 L610.9 109.4 L613.2 129.6 L615.4 150.3 L617.1 123.5 L618.8 150.8 L620.5 129.0 L622.7 132.0 L625.0 136.8" fill="none" stroke="#9c9c9c" stroke-width="0.9" stroke-linejoin="round" stroke-linecap="round"/>
<path d="M377.0 133.9 L379.2 135.5 L381.6 135.3 L383.2 137.3 L384.9 141.8 L386.9 144.0 L388.6 145.3 L391.0 146.7 L393.1 146.1 L394.7 145.7 L397.1 147.5 L399.5 143.9 L401.8 144.0 L403.5 139.5 L406.0 135.5 L408.0 133.8 L409.9 129.1 L411.7 127.0 L413.3 125.4 L415.8 126.7 L418.1 128.3 L419.6 129.4 L421.8 129.3 L423.5 129.8 L425.5 129.4 L427.6 130.5 L429.5 130.2 L431.2 130.3 L432.9 130.3 L434.4 131.6 L436.6 128.6 L438.8 122.2 L441.3 117.8 L443.7 114.9 L446.1 115.8 L448.0 113.9 L450.4 116.3 L452.1 112.4 L454.5 112.7 L456.1 116.9 L458.6 119.0 L460.3 124.2 L462.4 132.9 L464.3 140.7 L466.5 142.2 L468.1 144.8 L470.4 143.6 L471.8 141.1 L474.0 140.8 L475.5 142.1 L477.4 141.5 L478.8 141.5 L481.4 140.6 L483.1 143.1 L485.2 150.1 L487.1 154.3 L489.5 154.7 L491.5 149.3 L494.0 142.8 L496.2 144.4 L498.0 149.6 L500.5 154.2 L502.8 157.4 L505.2 157.8 L506.9 152.4 L508.6 151.7 L510.3 152.8 L511.8 153.5 L513.7 154.2 L515.8 155.4 L517.2 155.0 L519.2 154.3 L521.2 153.1 L523.2 150.5 L524.7 146.8 L527.1 142.8 L528.8 142.1 L530.2 143.2 L531.8 141.5 L534.2 143.6 L536.8 145.0 L538.4 143.8 L540.7 140.4 L542.8 139.6 L544.3 136.4 L546.8 135.4 L548.3 137.8 L550.2 139.5 L552.5 141.3 L554.7 143.4 L557.2 138.2 L559.2 139.1 L561.3 136.8 L563.7 131.9 L565.3 129.3 L567.7 123.9 L569.7 123.5 L571.4 133.8 L573.0 138.7 L575.2 145.4 L576.8 145.0 L579.4 138.6 L581.7 133.0 L584.1 128.9 L586.4 120.5 L587.9 122.9 L589.7 122.0 L591.4 121.0 L593.7 123.3 L595.2 119.1 L596.9 113.7 L598.6 114.3 L601.0 113.9 L603.6 115.3 L605.9 116.4 L607.9 117.3 L610.4 117.9 L612.2 121.8 L614.2 126.2 L615.6 129.8 L618.0 131.7 L620.1 133.4 L621.9 132.7 L623.9 130.0" fill="none" stroke="#444444" stroke-width="1.1" stroke-linejoin="round" stroke-linecap="round"/>
<line x1="515.70" y1="145.20" x2="515.70" y2="162.60" stroke="#2a2a2a" stroke-width="1.8"/>
<line x1="598.80" y1="105.10" x2="598.80" y2="123.60" stroke="#2a2a2a" stroke-width="1.8"/>
<text transform="translate(511.60 35.00) skewX(-12)" x="0" y="0" font-size="13.5" font-style="italic">4</text>
<text x="500.90" y="11.30" font-size="13.5" text-anchor="middle">(&#1073;)</text>
<line x1="61.90" y1="285.50" x2="61.90" y2="373.80" stroke="#b8b8b8" stroke-width="1.0"/>
<line x1="61.90" y1="377.40" x2="61.90" y2="466.50" stroke="#b8b8b8" stroke-width="1.0"/>
<line x1="79.70" y1="285.50" x2="79.70" y2="373.80" stroke="#b8b8b8" stroke-width="1.0"/>
<line x1="79.70" y1="377.40" x2="79.70" y2="466.50" stroke="#b8b8b8" stroke-width="1.0"/>
<line x1="97.60" y1="285.50" x2="97.60" y2="373.80" stroke="#b8b8b8" stroke-width="1.0"/>
<line x1="97.60" y1="377.40" x2="97.60" y2="466.50" stroke="#b8b8b8" stroke-width="1.0"/>
<line x1="115.90" y1="285.50" x2="115.90" y2="373.80" stroke="#b8b8b8" stroke-width="1.0"/>
<line x1="115.90" y1="377.40" x2="115.90" y2="466.50" stroke="#b8b8b8" stroke-width="1.0"/>
<line x1="133.80" y1="285.50" x2="133.80" y2="373.80" stroke="#b8b8b8" stroke-width="1.0"/>
<line x1="133.80" y1="377.40" x2="133.80" y2="466.50" stroke="#b8b8b8" stroke-width="1.0"/>
<line x1="151.40" y1="285.50" x2="151.40" y2="373.80" stroke="#b8b8b8" stroke-width="1.0"/>
<line x1="151.40" y1="377.40" x2="151.40" y2="466.50" stroke="#b8b8b8" stroke-width="1.0"/>
<line x1="170.20" y1="285.50" x2="170.20" y2="373.80" stroke="#b8b8b8" stroke-width="1.0"/>
<line x1="170.20" y1="377.40" x2="170.20" y2="466.50" stroke="#b8b8b8" stroke-width="1.0"/>
<line x1="187.60" y1="285.50" x2="187.60" y2="373.80" stroke="#b8b8b8" stroke-width="1.0"/>
<line x1="187.60" y1="377.40" x2="187.60" y2="466.50" stroke="#b8b8b8" stroke-width="1.0"/>
<line x1="206.40" y1="285.50" x2="206.40" y2="373.80" stroke="#b8b8b8" stroke-width="1.0"/>
<line x1="206.40" y1="377.40" x2="206.40" y2="466.50" stroke="#b8b8b8" stroke-width="1.0"/>
<line x1="223.40" y1="285.50" x2="223.40" y2="373.80" stroke="#b8b8b8" stroke-width="1.0"/>
<line x1="223.40" y1="377.40" x2="223.40" y2="466.50" stroke="#b8b8b8" stroke-width="1.0"/>
<line x1="242.00" y1="285.50" x2="242.00" y2="373.80" stroke="#b8b8b8" stroke-width="1.0"/>
<line x1="242.00" y1="377.40" x2="242.00" y2="466.50" stroke="#b8b8b8" stroke-width="1.0"/>
<line x1="259.90" y1="285.50" x2="259.90" y2="373.80" stroke="#b8b8b8" stroke-width="1.0"/>
<line x1="259.90" y1="377.40" x2="259.90" y2="466.50" stroke="#b8b8b8" stroke-width="1.0"/>
<line x1="277.60" y1="285.50" x2="277.60" y2="373.80" stroke="#b8b8b8" stroke-width="1.0"/>
<line x1="277.60" y1="377.40" x2="277.60" y2="466.50" stroke="#b8b8b8" stroke-width="1.0"/>
<line x1="44.60" y1="330.00" x2="295.00" y2="330.00" stroke="#7a7a7a" stroke-width="1.3"/>
<line x1="44.60" y1="285.80" x2="44.60" y2="373.60" stroke="#606060" stroke-width="1.5"/>
<line x1="295.00" y1="285.80" x2="295.00" y2="373.60" stroke="#606060" stroke-width="1.5"/>
<line x1="44.60" y1="378.70" x2="44.60" y2="466.50" stroke="#606060" stroke-width="1.5"/>
<line x1="295.00" y1="378.70" x2="295.00" y2="466.50" stroke="#606060" stroke-width="1.5"/>
<line x1="44.60" y1="466.50" x2="295.00" y2="466.50" stroke="#606060" stroke-width="1.5"/>
<line x1="44.60" y1="285.80" x2="49.60" y2="285.80" stroke="#606060" stroke-width="1.5"/>
<text x="41.60" y="290.30" font-size="12.5" text-anchor="end">15</text>
<line x1="44.60" y1="330.00" x2="49.60" y2="330.00" stroke="#606060" stroke-width="1.5"/>
<text x="41.60" y="334.50" font-size="12.5" text-anchor="end">0</text>
<line x1="44.60" y1="373.60" x2="49.60" y2="373.60" stroke="#606060" stroke-width="1.5"/>
<line x1="20.20" y1="375.00" x2="28.60" y2="375.00" stroke="#2a2a2a" stroke-width="1.05"/>
<text x="41.60" y="378.10" font-size="12.5" text-anchor="end">15</text>
<line x1="291.00" y1="285.80" x2="295.00" y2="285.80" stroke="#606060" stroke-width="1.5"/>
<text x="298.00" y="290.30" font-size="12.5" text-anchor="start">6</text>
<line x1="291.00" y1="315.40" x2="295.00" y2="315.40" stroke="#606060" stroke-width="1.5"/>
<text x="298.00" y="319.90" font-size="12.5" text-anchor="start">4</text>
<line x1="291.00" y1="344.50" x2="295.00" y2="344.50" stroke="#606060" stroke-width="1.5"/>
<text x="298.00" y="349.00" font-size="12.5" text-anchor="start">2</text>
<line x1="291.00" y1="373.60" x2="295.00" y2="373.60" stroke="#606060" stroke-width="1.5"/>
<text x="298.00" y="378.10" font-size="12.5" text-anchor="start">0</text>
<line x1="44.60" y1="396.40" x2="49.60" y2="396.40" stroke="#606060" stroke-width="1.5"/>
<text x="41.60" y="400.90" font-size="12.5" text-anchor="end">300</text>
<line x1="44.60" y1="419.80" x2="49.60" y2="419.80" stroke="#606060" stroke-width="1.5"/>
<text x="41.60" y="424.30" font-size="12.5" text-anchor="end">200</text>
<line x1="44.60" y1="443.10" x2="49.60" y2="443.10" stroke="#606060" stroke-width="1.5"/>
<text x="41.60" y="447.60" font-size="12.5" text-anchor="end">100</text>
<line x1="44.60" y1="466.50" x2="49.60" y2="466.50" stroke="#606060" stroke-width="1.5"/>
<text x="41.60" y="471.00" font-size="12.5" text-anchor="end">0</text>
<line x1="291.00" y1="403.60" x2="295.00" y2="403.60" stroke="#606060" stroke-width="1.5"/>
<text x="298.00" y="408.10" font-size="12.5" text-anchor="start">100</text>
<line x1="291.00" y1="435.10" x2="295.00" y2="435.10" stroke="#606060" stroke-width="1.5"/>
<text x="298.00" y="439.60" font-size="12.5" text-anchor="start">50</text>
<line x1="291.00" y1="466.50" x2="295.00" y2="466.50" stroke="#606060" stroke-width="1.5"/>
<text x="298.00" y="471.00" font-size="12.5" text-anchor="start">0</text>
<text x="49.70" y="472.50" font-size="12.5" text-anchor="end" transform="rotate(-90 49.70 472.50)">16.08.17</text>
<text x="85.47" y="472.50" font-size="12.5" text-anchor="end" transform="rotate(-90 85.47 472.50)">17.08.17</text>
<text x="121.24" y="472.50" font-size="12.5" text-anchor="end" transform="rotate(-90 121.24 472.50)">18.08.17</text>
<text x="157.01" y="472.50" font-size="12.5" text-anchor="end" transform="rotate(-90 157.01 472.50)">19.08.17</text>
<text x="192.79" y="472.50" font-size="12.5" text-anchor="end" transform="rotate(-90 192.79 472.50)">20.08.17</text>
<text x="228.56" y="472.50" font-size="12.5" text-anchor="end" transform="rotate(-90 228.56 472.50)">21.08.17</text>
<text x="264.33" y="472.50" font-size="12.5" text-anchor="end" transform="rotate(-90 264.33 472.50)">22.08.17</text>
<text x="300.10" y="472.50" font-size="12.5" text-anchor="end" transform="rotate(-90 300.10 472.50)">23.08.17</text>
<clipPath id="cv"><rect x="44" y="284.5" width="252" height="90.3"/></clipPath>
<g clip-path="url(#cv)">
<path d="M45.0 373.1 C46.3 373.1 50.9 375.4 52.9 373.1 C54.9 370.8 55.5 361.7 56.8 359.2 C58.1 356.7 59.3 358.4 60.8 358.2 C62.3 358.0 64.2 360.3 65.7 358.2 C67.2 356.1 68.7 347.1 69.7 345.3 C70.7 343.5 70.9 342.7 71.7 347.3 C72.5 351.9 72.2 368.8 74.7 373.1 C77.2 377.4 83.7 375.1 86.5 373.1 C89.3 371.1 90.2 363.5 91.5 361.2 C92.8 358.9 93.3 359.7 94.5 359.2 C95.7 358.7 97.2 360.5 98.4 358.2 C99.6 355.9 100.2 352.4 101.4 345.3 C102.6 338.2 104.3 320.9 105.3 315.6 C106.3 310.3 106.6 309.7 107.3 313.7 C108.0 317.7 108.6 329.5 109.3 339.4 C110.0 349.3 108.8 367.5 111.3 373.1 C113.8 378.7 121.6 375.4 124.2 373.1 C126.8 370.8 126.1 364.5 127.1 359.2 C128.1 353.9 129.1 346.3 130.1 341.4 C131.1 336.4 131.9 331.6 133.1 329.5 C134.2 327.4 135.7 325.9 137.0 328.5 C138.3 331.1 140.0 340.2 141.0 345.3 C142.0 350.4 140.8 356.9 143.0 359.2 C145.2 361.5 151.6 357.5 153.9 359.2 C156.2 360.9 155.8 366.6 156.8 369.1 C157.8 371.6 158.6 374.4 159.8 374.1 C161.0 373.8 162.5 370.6 163.8 367.1 C165.1 363.6 166.5 357.2 167.7 353.3 C168.9 349.4 169.4 345.3 171.2 343.7 C173.0 342.1 176.3 343.4 178.4 343.7 C180.5 344.0 182.0 343.3 183.5 345.7 C185.0 348.1 186.4 358.1 187.6 358.1 C188.8 358.1 189.8 347.9 190.7 345.7 C191.5 343.5 192.0 342.3 192.7 344.7 C193.4 347.1 194.1 355.5 194.8 360.1 C195.5 364.7 196.0 371.5 196.8 372.5 C197.7 373.5 198.9 372.1 199.9 366.3 C200.9 360.5 202.0 345.6 203.0 337.5 C204.0 329.4 205.1 322.2 206.1 318.0 C207.1 313.8 208.2 312.3 209.2 312.5 C210.2 312.7 211.3 315.2 212.3 319.0 C213.3 322.8 214.3 329.0 215.3 335.5 C216.3 342.0 217.4 351.8 218.4 358.1 C219.4 364.4 220.1 370.8 221.5 373.5 C222.9 376.2 224.9 374.5 226.6 374.5 C228.3 374.5 230.4 376.2 231.8 373.5 C233.2 370.8 233.9 364.4 234.9 358.1 C235.9 351.8 236.7 341.7 237.9 335.5 C239.1 329.3 240.7 324.5 242.1 321.1 C243.5 317.7 245.0 315.2 246.2 314.9 C247.4 314.5 248.2 316.2 249.2 319.0 C250.2 321.8 251.3 327.3 252.3 331.4 C253.3 335.5 254.2 341.5 255.4 343.7 C256.6 345.9 257.8 344.6 259.5 344.7 C261.2 344.8 264.0 343.9 265.7 344.1 C267.4 344.3 268.4 343.6 269.8 345.7 C271.2 347.8 272.7 354.6 273.9 357.0 C275.1 359.4 276.0 365.6 277.0 360.1 C278.0 354.6 279.1 331.9 280.1 324.2 C281.1 316.5 282.1 314.4 283.1 313.9 C284.1 313.4 285.2 317.2 286.2 321.1 C287.2 325.0 288.3 331.5 289.3 337.5 C290.3 343.5 291.5 355.3 292.4 357.0 C293.2 358.7 294.1 349.3 294.4 347.8" fill="none" stroke="#555555" stroke-width="1.0" stroke-dasharray="1.2 1.5" stroke-linejoin="round" stroke-linecap="round"/>
<path d="M45.0 310.7 C45.3 309.9 46.1 306.9 46.9 305.7 C47.7 304.5 48.9 303.1 49.9 303.4 C50.9 303.7 52.1 305.3 52.9 307.7 C53.7 310.1 54.1 313.6 54.9 317.6 C55.7 321.6 56.8 327.7 57.8 331.5 C58.8 335.3 59.6 338.1 60.8 340.4 C62.0 342.6 63.5 344.3 64.8 345.0 C66.1 345.7 67.4 345.5 68.7 344.4 C70.0 343.3 71.6 340.9 72.7 338.4 C73.8 335.9 74.6 333.0 75.6 329.5 C76.6 326.0 77.4 321.6 78.6 317.6 C79.8 313.6 81.3 308.3 82.6 305.7 C83.9 303.1 85.3 302.3 86.5 302.2 C87.7 302.1 88.5 302.6 89.5 304.8 C90.5 307.0 91.5 311.8 92.5 315.6 C93.5 319.4 94.2 323.4 95.4 327.5 C96.6 331.6 98.2 336.9 99.4 340.4 C100.6 343.9 101.2 347.1 102.4 348.3 C103.6 349.5 105.0 348.6 106.3 347.3 C107.6 346.0 109.0 343.9 110.3 340.4 C111.6 336.9 113.0 331.1 114.3 326.5 C115.6 321.9 116.7 315.6 118.2 312.7 C119.7 309.8 121.9 309.5 123.2 309.3 C124.5 309.1 125.3 309.6 126.1 311.7 C126.9 313.8 127.3 317.7 128.1 321.6 C128.9 325.6 130.1 330.8 131.1 335.4 C132.1 340.0 133.2 345.7 134.1 349.3 C135.0 352.9 135.6 356.5 136.4 357.2 C137.2 357.9 138.1 355.6 139.0 353.3 C139.9 351.0 140.8 345.2 142.0 343.4 C143.2 341.6 144.8 342.6 145.9 342.4 C147.1 342.2 147.9 344.2 148.9 342.4 C149.9 340.6 150.9 335.8 151.9 331.5 C152.9 327.2 153.8 320.6 154.9 316.6 C156.1 312.6 157.5 309.6 158.8 307.7 C160.1 305.8 161.5 304.6 162.8 305.3 C164.1 306.0 165.8 309.4 166.7 311.7 C167.6 314.0 167.3 315.4 168.1 319.0 C168.8 322.6 170.2 328.6 171.2 333.4 C172.2 338.2 173.3 344.7 174.2 347.8 C175.0 350.9 175.4 351.9 176.3 351.9 C177.2 351.9 178.4 350.2 179.4 347.8 C180.4 345.4 181.3 341.4 182.5 337.5 C183.7 333.6 185.4 327.1 186.6 324.2 C187.8 321.3 188.5 321.2 189.7 320.1 C190.9 319.0 192.6 317.2 193.8 317.4 C195.0 317.6 196.0 318.8 196.8 321.1 C197.7 323.4 198.0 327.3 198.9 331.4 C199.8 335.5 200.8 341.9 202.0 345.7 C203.2 349.5 204.7 351.9 206.1 354.0 C207.5 356.1 208.8 357.9 210.2 358.1 C211.6 358.3 212.9 357.1 214.3 355.0 C215.7 352.9 217.2 349.6 218.4 345.7 C219.6 341.8 220.5 336.2 221.5 331.4 C222.5 326.6 223.4 320.3 224.6 317.0 C225.8 313.7 227.3 314.0 228.7 311.8 C230.1 309.6 231.8 304.1 232.8 303.6 C233.8 303.1 234.2 305.2 234.9 308.8 C235.6 312.4 236.2 320.1 236.9 325.2 C237.6 330.3 238.1 335.7 239.0 339.6 C239.9 343.5 240.9 346.8 242.1 348.8 C243.3 350.8 244.8 350.8 246.2 351.5 C247.6 352.2 249.1 353.2 250.3 352.9 C251.5 352.6 252.3 352.8 253.3 349.9 C254.3 347.0 255.4 339.6 256.4 335.5 C257.4 331.4 258.3 327.9 259.5 325.2 C260.7 322.4 262.2 321.1 263.6 319.0 C265.0 316.9 266.5 314.1 267.7 312.9 C268.9 311.7 269.8 310.4 270.8 311.8 C271.8 313.2 272.9 318.2 273.9 321.1 C274.9 324.0 276.0 327.4 277.0 329.3 C278.0 331.2 279.1 331.9 280.1 332.4 C281.1 332.9 281.9 331.7 283.1 332.4 C284.3 333.1 285.9 336.7 287.3 336.5 C288.7 336.3 290.2 333.6 291.4 331.4 C292.6 329.2 293.9 324.5 294.4 323.1" fill="none" stroke="#606060" stroke-width="1.15" stroke-linejoin="round" stroke-linecap="round"/>
</g>
<path d="M45.0 442.9 L46.7 442.2 L49.0 444.4 L51.3 437.5 L53.4 420.3 L55.1 432.2 L57.6 420.0 L60.1 428.7 L62.2 431.2 L64.3 423.8 L66.0 444.3 L67.5 443.1 L69.5 451.1 L71.7 466.0 L73.2 447.3 L75.7 445.2 L77.5 443.5 L79.2 438.9 L80.7 453.9 L83.5 435.0 L85.9 431.2 L88.4 440.0 L90.7 453.3 L92.2 435.1 L94.1 456.4 L96.2 433.2 L97.8 438.8 L100.5 437.8 L102.4 461.6 L104.1 448.5 L106.6 452.1 L108.2 449.5 L110.8 457.6 L112.9 441.1 L115.0 448.6 L116.9 432.1 L119.0 444.7 L120.7 438.1 L122.2 432.5 L124.8 435.3 L126.6 429.4 L129.0 410.2 L130.8 412.8 L133.5 421.5 L136.0 437.4 L138.5 443.0 L140.9 461.3 L143.1 457.5 L145.5 464.3 L147.1 457.6 L149.2 460.9 L151.7 441.7 L153.4 465.4 L156.1 457.9 L158.6 440.6 L160.6 428.6 L162.6 425.5 L164.6 416.0 L166.6 422.3 L169.3 424.7 L171.2 437.5 L172.7 428.9 L174.3 466.0 L176.7 443.4 L179.4 447.2 L181.5 448.3 L183.6 451.1 L185.8 440.0 L188.2 441.3 L189.9 440.2 L192.2 458.7 L194.3 426.1 L196.6 441.3 L198.3 439.6 L200.0 445.4 L201.9 434.9 L204.5 448.7 L206.4 431.9 L208.7 462.4 L210.5 454.8 L212.1 448.2 L213.7 459.4 L216.2 458.4 L218.6 447.8 L220.5 452.9 L222.9 441.1 L225.2 445.9 L227.8 440.7 L230.5 443.3 L232.5 438.1 L235.2 448.6 L237.9 436.9 L240.1 429.4 L242.7 454.1 L244.7 448.5 L246.7 461.3 L248.5 451.2 L251.0 456.9 L252.7 450.3 L254.3 466.0 L256.8 450.6 L259.2 443.5 L261.3 458.5 L263.8 437.5 L265.3 441.7 L267.1 443.3 L269.0 439.1 L271.0 441.4 L272.7 427.4 L274.2 434.5 L276.1 432.1 L278.7 436.6 L281.4 437.4 L283.8 456.3 L285.9 439.4 L287.7 453.2 L290.4 451.6 L292.5 461.1" fill="none" stroke="#b8b8b8" stroke-width="1.0" stroke-linejoin="round" stroke-linecap="round"/>
<path d="M45.0 453.8 L47.5 438.9 L49.1 456.3 L50.5 442.1 L53.1 427.9 L54.8 431.7 L56.3 420.2 L58.5 431.4 L60.3 425.1 L62.8 434.9 L64.5 438.6 L67.0 455.0 L68.8 453.1 L70.9 457.8 L73.4 460.2 L75.6 450.0 L78.2 450.3 L80.4 442.4 L81.9 452.5 L84.3 435.6 L86.4 439.7 L88.2 435.9 L89.8 445.7 L92.3 445.2 L94.4 431.2 L96.9 436.8 L99.2 438.5 L101.8 450.6 L103.8 450.8 L106.1 437.3 L108.2 454.6 L109.9 451.7 L112.5 455.0 L114.2 446.9 L116.6 447.7 L119.1 448.2 L121.3 436.2 L122.9 428.8 L125.3 425.2 L127.5 418.5 L129.1 416.3 L130.6 414.0 L132.6 421.8 L134.0 429.1 L136.5 441.0 L138.5 448.8 L140.6 451.6 L142.5 455.9 L144.7 437.8 L147.2 466.0 L148.9 456.1 L150.8 453.7 L152.9 451.3 L154.6 447.5 L156.7 448.2 L158.8 435.8 L160.7 428.7 L162.9 426.6 L165.0 420.9 L166.5 425.8 L169.1 417.2 L170.9 440.3 L172.8 449.5 L174.7 444.5 L177.2 456.1 L179.7 452.3 L181.8 449.9 L183.6 443.2 L185.2 448.6 L187.6 433.4 L189.2 444.9 L191.3 441.8 L193.1 443.3 L194.9 439.5 L196.7 439.3 L198.4 444.5 L199.8 437.0 L201.8 437.4 L204.2 445.0 L206.4 443.1 L208.0 455.4 L210.3 449.5 L211.7 466.0 L213.6 453.1 L216.0 457.7 L218.5 447.6 L220.5 453.3 L222.9 446.7 L224.9 442.1 L226.9 446.6 L229.0 441.4 L231.6 437.5 L233.9 441.7 L235.9 427.4 L238.1 428.0 L240.3 428.5 L242.1 442.5 L244.5 464.3 L246.8 451.4 L249.0 448.4 L251.5 457.5 L252.9 452.7 L254.9 454.4 L257.1 455.5 L258.9 439.6 L260.5 449.1 L262.7 443.5 L264.7 440.0 L266.4 444.5 L267.8 442.9 L270.4 446.7 L272.2 444.7 L273.8 439.0 L275.4 440.5 L277.1 439.7 L279.6 452.3 L281.2 447.5 L282.9 452.8 L284.4 453.7 L286.4 455.2 L288.0 455.1 L289.9 461.4 L292.1 447.8" fill="none" stroke="#9c9c9c" stroke-width="0.9" stroke-linejoin="round" stroke-linecap="round"/>
<path d="M45.0 445.6 L47.5 442.3 L49.0 442.3 L51.0 439.5 L52.6 435.4 L54.2 430.7 L56.2 425.1 L58.4 424.3 L60.3 424.5 L62.2 429.4 L63.6 434.4 L65.8 440.5 L68.0 450.2 L70.3 452.9 L72.1 452.4 L73.9 452.4 L75.4 450.4 L77.5 449.0 L79.4 443.8 L81.1 439.7 L82.8 437.1 L84.4 433.8 L85.9 435.5 L88.0 435.5 L90.4 435.7 L92.1 436.7 L93.9 434.8 L95.6 430.8 L97.1 431.1 L99.5 433.8 L101.2 437.8 L103.3 445.5 L105.9 451.1 L107.3 453.3 L109.2 452.7 L111.4 450.8 L114.0 450.5 L116.1 444.9 L118.6 443.2 L121.2 437.8 L123.1 434.8 L125.0 427.0 L126.7 423.5 L128.3 416.3 L129.8 415.3 L131.9 418.3 L134.3 428.0 L136.8 440.6 L138.7 445.1 L141.1 453.4 L143.5 452.6 L145.8 452.0 L148.2 452.5 L149.9 452.4 L151.8 453.0 L153.9 450.7 L156.3 447.3 L158.1 441.1 L160.1 433.8 L162.7 425.7 L164.2 421.8 L165.9 421.6 L167.9 421.5 L170.2 430.5 L171.6 439.3 L173.2 453.6 L175.6 458.1 L177.2 458.0 L179.1 454.7 L181.4 453.4 L183.4 451.2 L185.4 448.9 L187.5 446.7 L189.0 447.0 L191.4 443.6 L193.8 440.1 L196.0 438.7 L197.7 437.8 L199.6 436.9 L201.4 440.0 L203.2 438.3 L205.2 444.1 L207.3 446.5 L208.8 449.3 L210.4 449.7 L212.4 453.4 L214.0 452.2 L216.1 454.1 L218.0 455.2 L220.4 453.6 L222.1 453.1 L223.6 449.3 L225.9 446.1 L227.5 445.6 L229.9 444.1 L231.8 442.1 L234.0 436.7 L236.5 432.1 L238.7 430.0 L241.2 433.8 L242.8 441.1 L244.4 447.8 L246.6 453.2 L248.7 456.2 L251.0 454.7 L253.2 452.2 L255.0 454.4 L257.4 453.4 L259.0 451.5 L261.2 450.8 L263.2 448.5 L265.0 444.1 L267.2 442.1 L269.0 438.5 L271.5 442.8 L273.0 439.2 L274.9 439.8 L276.3 438.5 L278.2 442.3 L280.2 444.8 L281.9 448.6 L283.7 450.5 L285.6 452.0 L287.5 451.1 L289.2 452.6 L291.1 455.5 L292.7 454.9" fill="none" stroke="#444444" stroke-width="1.1" stroke-linejoin="round" stroke-linecap="round"/>
<path d="M45.0 417.6 L55.8 417.6 L55.8 404.7 L62.8 404.7 L62.8 394.4 L68.7 394.4 L68.7 406.7 L74.7 406.7 L74.7 411.2 L81.6 411.2 L81.6 422.1 L86.5 422.1 L86.5 383.5 L93.5 383.5 L93.5 390.8 L98.4 390.8 L98.4 392.4 L104.4 392.4 L104.4 378.0 L109.3 378.0 L109.3 394.2 L116.2 394.2 L116.2 411.2 L121.2 411.2 L121.2 405.7 L130.1 405.7 L130.1 404.7 L135.0 404.7 L135.0 407.7 L139.0 407.7 L139.0 411.6 L144.0 411.6 L144.0 420.5 L151.9 420.5 L151.9 422.9 L170.1 422.9 L170.1 412.0 L177.3 412.0 L177.3 401.3 L182.5 401.3 L182.5 416.1 L189.7 416.1 L189.7 412.4 L199.9 412.4 L199.9 417.1 L206.1 417.1 L206.1 401.7 L212.3 401.7 L212.3 424.3 L220.4 424.3 L220.4 426.2 L225.6 426.2 L225.6 447.2 L228.6 447.2 L228.6 433.6 L234.0 433.6 L234.0 430.9 L237.4 430.9 L237.4 427.0 L246.2 427.0 L246.2 449.2 L255.0 449.2 L255.0 423.5 L262.4 423.5 L262.4 416.7 L267.7 416.7 L267.7 401.7 L273.9 401.7 L273.9 411.0 L278.0 411.0 L278.0 399.2 L284.2 399.2 L284.2 403.8 L294.4 403.8" fill="none" stroke="#5e5e5e" stroke-width="1.35" stroke-linejoin="round" stroke-linecap="round"/>
<line x1="90.50" y1="426.50" x2="90.50" y2="441.30" stroke="#2a2a2a" stroke-width="1.8"/>
<line x1="148.90" y1="445.30" x2="148.90" y2="457.20" stroke="#2a2a2a" stroke-width="1.8"/>
<line x1="107.30" y1="373.00" x2="107.30" y2="392.00" stroke="#555" stroke-width="1.2"/>
<line x1="194.80" y1="405.80" x2="194.80" y2="419.20" stroke="#555" stroke-width="1.1"/>
<rect x="291.3" y="403.3" width="3.2" height="3.4" fill="#fff" stroke="#666" stroke-width="0.9"/>
<rect x="237.4" y="427.5" width="2.6" height="11.5" fill="none" stroke="#666" stroke-width="1"/>
<text transform="translate(214.20 404.50) skewX(-12)" x="0" y="0" font-size="13.5" font-style="italic">2</text>
<text x="169.50" y="280.30" font-size="13.5" text-anchor="middle">(&#1074;)</text>
<text class="lab" x="15.00" y="59.60" font-size="14" text-anchor="middle" transform="rotate(-90 15.00 59.60)">&#916;<tspan font-style="italic">T</tspan>, <tspan font-size="9" dx="1.5" dy="-1.5">&#176;</tspan><tspan dy="1.5" dx="1">C</tspan></text>
<text class="lab" x="17.00" y="146.30" font-size="14" text-anchor="middle" transform="rotate(-90 17.00 146.30)"><tspan font-style="italic">C</tspan><tspan font-size="10.5" dy="3.5">Rn</tspan><tspan dy="-3.5">, &#1041;&#1082;/&#1084;</tspan><tspan font-size="10.5" dy="-6">3</tspan></text>
<text class="lab" x="320.00" y="57.60" font-size="14" text-anchor="middle" transform="rotate(-90 320.00 57.60)"><tspan font-style="italic">V</tspan><tspan font-size="10.5" dy="3.5">&#1072;</tspan><tspan dy="-3.5">, &#1084;&#1089;</tspan></text>
<text class="lab" x="348.00" y="59.10" font-size="14" text-anchor="middle" transform="rotate(-90 348.00 59.10)">&#916;<tspan font-style="italic">T</tspan>, <tspan font-size="9" dx="1.5" dy="-1.5">&#176;</tspan><tspan dy="1.5" dx="1">C</tspan></text>
<text class="lab" x="348.50" y="146.50" font-size="14" text-anchor="middle" transform="rotate(-90 348.50 146.50)"><tspan font-style="italic">C</tspan><tspan font-size="10.5" dy="3.5">Rn</tspan><tspan dy="-3.5">, &#1041;&#1082;/&#1084;</tspan><tspan font-size="10.5" dy="-6">3</tspan></text>
<text class="lab" x="650.00" y="57.60" font-size="14" text-anchor="middle" transform="rotate(-90 650.00 57.60)"><tspan font-style="italic">V</tspan><tspan font-size="10.5" dy="3.5">&#1072;</tspan><tspan dy="-3.5">, &#1084;&#1089;</tspan></text>
<text class="lab" x="15.00" y="328.80" font-size="14" text-anchor="middle" transform="rotate(-90 15.00 328.80)">&#916;<tspan font-style="italic">T</tspan>, <tspan font-size="9" dx="1.5" dy="-1.5">&#176;</tspan><tspan dy="1.5" dx="1">C</tspan></text>
<text class="lab" x="17.00" y="414.70" font-size="14" text-anchor="middle" transform="rotate(-90 17.00 414.70)"><tspan font-style="italic">C</tspan><tspan font-size="10.5" dy="3.5">Rn</tspan><tspan dy="-3.5">, &#1041;&#1082;/&#1084;</tspan><tspan font-size="10.5" dy="-6">3</tspan></text>
<text class="lab" x="332.00" y="326.90" font-size="14" text-anchor="middle" transform="rotate(-90 332.00 326.90)"><tspan font-style="italic">V</tspan><tspan font-size="10.5" dy="3.5">&#1072;</tspan><tspan dy="-3.5">, &#1084;&#1089;</tspan></text>
<text class="lab" x="333.00" y="423.00" font-size="14" text-anchor="middle" transform="rotate(-90 333.00 423.00)"><tspan font-style="italic">J</tspan><tspan font-size="10.5" dy="3.5">Rn</tspan><tspan dy="-3.5">, &#1084;&#1041;&#1082;/(&#1084;</tspan><tspan font-size="10.5" dy="-4.5">2</tspan><tspan dy="4.5"> &#1089;)</tspan></text>
</svg>
</body></html>
